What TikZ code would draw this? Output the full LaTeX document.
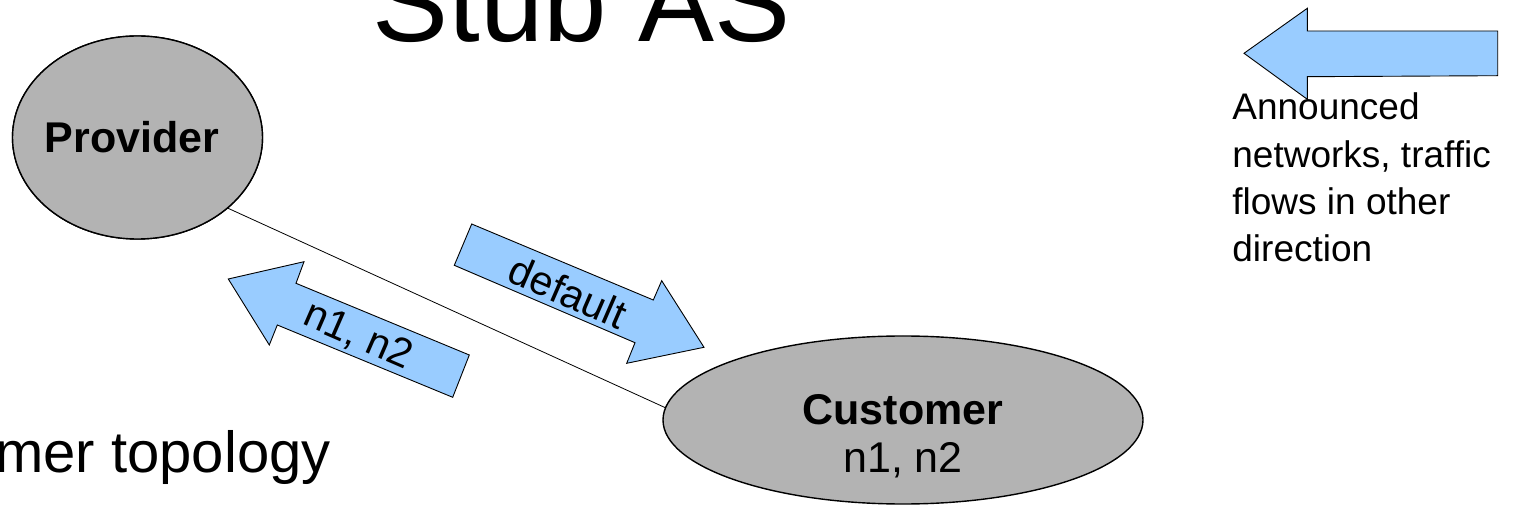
\documentclass[tikz,border=0pt]{standalone}
\usepackage{fontspec}
\setmainfont{Liberation Sans}
\usetikzlibrary{shapes.geometric}
\definecolor{arrowblue}{HTML}{99CCFF}
\definecolor{nodegray}{HTML}{B3B3B3}
\tikzset{
  blob/.style={ellipse, draw=black, line width=0.7pt, fill=nodegray, inner sep=0pt},
  bigarrow/.style={draw=black, line width=0.45pt, fill=arrowblue, line join=miter},
  nodelabel/.style={inner sep=0pt, font=\fontsize{21.5}{24}\selectfont},
  arrowlabel/.style={inner sep=0pt, font=\fontsize{20.5}{24}\selectfont, rotate=-23.5},
  link/.style={draw=black, line width=0.4pt}
}
\begin{document}
\begin{tikzpicture}[x=0.5pt,y=0.5pt]
\clip (0,0) rectangle (1515,-507);
% title fragments
\node[anchor=base west, inner sep=0pt, font=\fontsize{57}{60}\selectfont] (title) at (372,-41.7) {Stub AS};
\node[anchor=base east, inner sep=0pt, font=\fontsize{29}{32}\selectfont] (subtitle) at (331,-473) {mer topology};
% nodes
\node[blob, minimum width=125pt, minimum height=101.5pt] (prov) at (137.5,-137.5) {};
\node[blob, minimum width=240pt, minimum height=84pt] (cust) at (903,-420) {};
\draw[link] (prov.-38.7) -- (cust.177);
\node[blob, minimum width=125pt, minimum height=101.5pt] at (137.5,-137.5) {};
\node[nodelabel, anchor=base, font=\fontsize{21.5}{24}\selectfont\bfseries] (provtext) at (132,-153) {Provider};
\node[nodelabel, anchor=base, font=\fontsize{21.5}{24}\selectfont\bfseries] (custtext) at (903,-425) {Customer};
\node[nodelabel, anchor=base] (custnets) at (903,-473) {n1, n2};
% announced arrow (n1, n2) pointing to provider
\draw[bigarrow] (228.3,-279) -- (304,-261.7) -- (296,-283.3) -- (469.3,-355)
  -- (452.7,-397.3) -- (277.3,-325) -- (269.3,-345) -- cycle;
\node[arrowlabel] (annlabel) at (358,-336) {n1, n2};
% default arrow pointing to customer
\draw[bigarrow] (471.7,-224) -- (653.3,-300) -- (661.7,-280.7) -- (704,-347.3)
  -- (626.7,-363.3) -- (635,-342.7) -- (454.3,-265.3) -- cycle;
\node[arrowlabel] (deflabel) at (568,-292) {default};
% legend arrow
\draw[bigarrow] (1244,-53.3) -- (1307.3,-8.3) -- (1307.3,-31) -- (1497.7,-31)
  -- (1497.7,-75.7) -- (1307.3,-76.7) -- (1307.3,-99.3) -- cycle;
\node[anchor=base west, inner sep=0pt, align=left, font=\fontsize{18.5}{23.7}\selectfont] (legend) at (1232,-262)
  {Announced\\networks, traffic\\flows in other\\direction};
\end{tikzpicture}
\end{document}
